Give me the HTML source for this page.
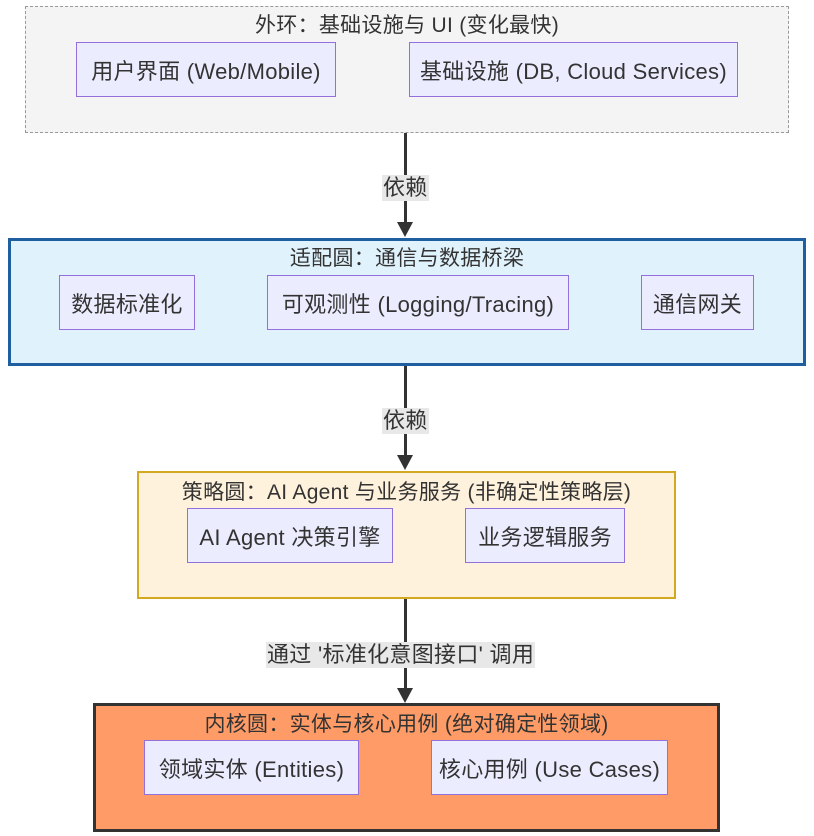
<!DOCTYPE html>
<html><head><meta charset="utf-8"><style>
body{margin:0;width:814px;height:836px;background:#fff;position:relative;font-family:"Liberation Sans","Noto Sans CJK SC",sans-serif;color:#333;overflow:hidden}
.b{position:absolute;box-sizing:border-box}
.t{position:absolute;left:0;right:0;text-align:center;font-size:21px;line-height:24px;letter-spacing:0.3px;white-space:nowrap}
.n{position:absolute;box-sizing:border-box;background:#ececff;border:1.5px solid #9370db;display:flex;align-items:center;justify-content:center;font-size:22px;letter-spacing:0.3px;white-space:nowrap}
.l{position:absolute;width:3px;background:#333}
.a{position:absolute;width:0;height:0;border-left:8px solid transparent;border-right:8px solid transparent;border-top:15px solid #333}
.lb{position:absolute;background:#e8e8e8;font-size:22px;line-height:26px;padding:0 1px;white-space:nowrap;letter-spacing:0.3px}
</style></head><body>
<div class="b" style="left:25px;top:6px;width:764px;height:127px;background:#f4f4f4;border:1.5px dashed #999"><div class="t" style="top:7px">外环：基础设施与 UI (变化最快)</div></div>
<div class="n" style="left:76px;top:42px;width:260px;height:55px">用户界面 (Web/Mobile)</div>
<div class="n" style="left:409px;top:42px;width:329px;height:55px">基础设施 (DB, Cloud Services)</div>

<div class="l" style="left:404px;top:133px;height:92px"></div>
<div class="a" style="left:397px;top:222px"></div>
<div class="lb" style="left:382px;top:175px">依赖</div>

<div class="b" style="left:8px;top:238px;width:798px;height:128px;background:#e0f3fd;border:3px solid #1f5fa0"><div class="t" style="top:6px">适配圆：通信与数据桥梁</div></div>
<div class="n" style="left:59px;top:275px;width:136px;height:55px">数据标准化</div>
<div class="n" style="left:267px;top:275px;width:302px;height:55px">可观测性 (Logging/Tracing)</div>
<div class="n" style="left:641px;top:275px;width:113px;height:55px">通信网关</div>

<div class="l" style="left:404px;top:366px;height:92px"></div>
<div class="a" style="left:397px;top:455px"></div>
<div class="lb" style="left:382px;top:408px">依赖</div>

<div class="b" style="left:137px;top:471px;width:539px;height:128px;background:#fff2dc;border:2px solid #d4a820"><div class="t" style="top:8px">策略圆：AI Agent 与业务服务 (非确定性策略层)</div></div>
<div class="n" style="left:187px;top:508px;width:206px;height:55px">AI Agent 决策引擎</div>
<div class="n" style="left:465px;top:508px;width:160px;height:55px">业务逻辑服务</div>

<div class="l" style="left:404px;top:599px;height:92px"></div>
<div class="a" style="left:397px;top:688px"></div>
<div class="lb" style="left:266px;top:642px">通过 '标准化意图接口' 调用</div>

<div class="b" style="left:93px;top:703px;width:627px;height:129px;background:#ff9b66;border:3px solid #333"><div class="t" style="top:7px">内核圆：实体与核心用例 (绝对确定性领域)</div></div>
<div class="n" style="left:144px;top:740px;width:215px;height:55px">领域实体 (Entities)</div>
<div class="n" style="left:431px;top:740px;width:237px;height:55px">核心用例 (Use Cases)</div>
</body></html>
